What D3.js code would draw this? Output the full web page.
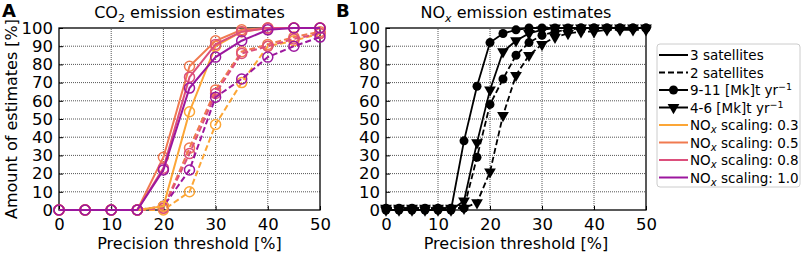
<!DOCTYPE html>
<html>
<head>
<meta charset="utf-8">
<script src="https://cdn.jsdelivr.net/npm/d3@7"></script>
<style>
  body { margin: 0; background: #fff; }
  svg { font-family: "DejaVu Sans", sans-serif; }
</style>
</head>
<body>
<div id="chart"></div>
<script>
// ---- data ----
const co2X = [0, 5, 10, 15, 20, 25, 30, 35, 40, 45, 50];
const co2_3sat_03 = [0, 0, 0, 0, 2, 54, 90, 98, 100, 100, 100];
const co2_3sat_05 = [0, 0, 0, 0, 29, 79, 93, 99, 100, 100, 100];
const co2_3sat_08 = [0, 0, 0, 0, 23, 73, 91, 98, 100, 100, 100];
const co2_3sat_10 = [0, 0, 0, 0, 22, 67, 84, 93, 99, 100, 100];
const co2_2sat_03 = [0, 0, 0, 0, 0, 10, 47, 70, 90, 93, 97];
const co2_2sat_05 = [0, 0, 0, 0, 1, 34, 66, 87, 91, 95, 98];
const co2_2sat_08 = [0, 0, 0, 0, 1, 31, 64, 86, 90, 94, 97];
const co2_2sat_10 = [0, 0, 0, 0, 2, 22, 62, 72, 84, 90, 95];

const noxX = [0, 2.5, 5, 7.5, 10, 12.5, 15, 17.5, 20, 22.5, 25, 27.5, 30, 32.5, 35, 37.5, 40, 42.5, 45, 47.5, 50];
const nox_3sat_high = [0, 0, 0, 0, 0, 0, 38, 68, 92, 97, 99, 100, 100, 100, 100, 100, 100, 100, 100, 100, 100];
const nox_3sat_low  = [0, 0, 0, 0, 0, 0, 5, 37, 66, 87, 93, 97, 99, 100, 100, 100, 100, 100, 100, 100, 100];
const nox_2sat_high = [1, 1, 1, 1, 1, 1, 1, 29, 58, 72, 85, 92, 96, 98, 99, 100, 100, 100, 100, 100, 100];
const nox_2sat_low  = [1, 1, 1, 1, 1, 1, 1, 4, 21, 52, 74, 85, 91, 95, 97, 98, 98, 99, 99, 99, 99];

const scalingLabels = ["0.3", "0.5", "0.8", "1.0"];
const scalingColors = ["#fca636", "#f07a50", "#dc4f7c", "#9c179e"];
const xTicks = [0, 10, 20, 30, 40, 50];
const yTicks = [0, 10, 20, 30, 40, 50, 60, 70, 80, 90, 100];

// ---- layout ----
const width = 803, height = 255;
const yScale = d3.scaleLinear().domain([0, 100]).range([210, 28]);
const xA = d3.scaleLinear().domain([0, 50]).range([59, 320]);
const xB = d3.scaleLinear().domain([0, 50]).range([386, 646]);

const svg = d3.select("#chart").append("svg")
  .attr("width", width)
  .attr("height", height);

function drawFrame(x, letter, letterX, titleMain, titleSub, titleRest, showYLabel) {
  const g = svg.append("g");
  const [x0, x1] = x.range();

  // dotted grid
  g.selectAll(".gx").data(xTicks.slice(1, -1)).enter().append("line")
    .attr("x1", d => x(d)).attr("x2", d => x(d))
    .attr("y1", yScale(0)).attr("y2", yScale(100))
    .attr("stroke", "#555").attr("stroke-width", 1).attr("stroke-dasharray", "1,1");
  g.selectAll(".gy").data(yTicks.slice(1, -1)).enter().append("line")
    .attr("x1", x0).attr("x2", x1)
    .attr("y1", d => yScale(d)).attr("y2", d => yScale(d))
    .attr("stroke", "#555").attr("stroke-width", 1).attr("stroke-dasharray", "1,1");

  // axes, inward ticks
  const xAxis = g.append("g")
    .attr("transform", `translate(0,${yScale(0)})`)
    .call(d3.axisBottom(x).tickValues(xTicks).tickSizeInner(-4).tickSizeOuter(0).tickPadding(8));
  const yAxis = g.append("g")
    .attr("transform", `translate(${x0},0)`)
    .call(d3.axisLeft(yScale).tickValues(yTicks).tickSizeInner(-4).tickSizeOuter(0).tickPadding(6));
  [xAxis, yAxis].forEach(a => {
    a.select(".domain").remove();
    a.selectAll("text").attr("font-size", 16.5).attr("fill", "#000")
      .attr("font-family", "DejaVu Sans");
    a.selectAll("line").attr("stroke", "#000");
  });

  // frame
  g.append("rect")
    .attr("x", x0).attr("y", yScale(100))
    .attr("width", x1 - x0).attr("height", yScale(0) - yScale(100))
    .attr("fill", "none").attr("stroke", "#000").attr("stroke-width", 1.3);

  // title
  const t = g.append("text")
    .attr("x", (x0 + x1) / 2).attr("y", 18)
    .attr("text-anchor", "middle").attr("font-size", 16);
  t.append("tspan").text(titleMain);
  t.append("tspan").attr("dy", 4).attr("font-size", 11).attr("font-style", titleSub === "x" ? "italic" : "normal").text(titleSub);
  t.append("tspan").attr("dy", -4).text(titleRest);

  g.append("text")
    .attr("x", letterX).attr("y", 17)
    .attr("font-size", 18).attr("font-weight", "bold").text(letter);

  g.append("text")
    .attr("x", (x0 + x1) / 2).attr("y", 249)
    .attr("text-anchor", "middle").attr("font-size", 16)
    .text("Precision threshold [%]");

  if (showYLabel) {
    g.append("text")
      .attr("transform", `translate(17,${(yScale(0) + yScale(100)) / 2}) rotate(-90)`)
      .attr("text-anchor", "middle").attr("font-size", 16)
      .text("Amount of estimates [%]");
  }
}

drawFrame(xA, "A", 2, "CO", "2", " emission estimates", true);
drawFrame(xB, "B", 336, "NO", "x", " emission estimates", false);

// ---- panel A lines ----
const co2Dashed = [co2_2sat_03, co2_2sat_05, co2_2sat_08, co2_2sat_10];
const co2Solid = [co2_3sat_03, co2_3sat_05, co2_3sat_08, co2_3sat_10];

function drawSeries(x, xs, ys, color, dash, width, marker) {
  const pts = xs.map((d, i) => [d, ys[i]]);
  const line = d3.line().x(d => x(d[0])).y(d => yScale(d[1]));
  svg.append("path")
    .datum(pts)
    .attr("d", line)
    .attr("fill", "none")
    .attr("stroke", color)
    .attr("stroke-width", width)
    .attr("stroke-dasharray", dash ? "6,3" : null);

  if (marker === "open") {
    svg.append("g").selectAll("circle").data(pts).enter().append("circle")
      .attr("cx", d => x(d[0])).attr("cy", d => yScale(d[1]))
      .attr("r", 5).attr("fill", "none")
      .attr("stroke", color).attr("stroke-width", 1.5);
  } else if (marker === "circle") {
    svg.append("g").selectAll("circle").data(pts).enter().append("circle")
      .attr("cx", d => x(d[0])).attr("cy", d => yScale(d[1]))
      .attr("r", 4.5).attr("fill", color);
  } else if (marker === "tri") {
    const sym = d3.symbol().type(d3.symbolTriangle).size(60);
    svg.append("g").selectAll("path").data(pts).enter().append("path")
      .attr("d", sym)
      .attr("transform", d => `translate(${x(d[0])},${yScale(d[1])}) rotate(180)`)
      .attr("fill", color);
  }
}

co2Dashed.forEach((s, i) => drawSeries(xA, co2X, s, scalingColors[i], true, 2, "open"));
co2Solid.forEach((s, i) => drawSeries(xA, co2X, s, scalingColors[i], false, 2, "open"));

// ---- panel B lines ----
drawSeries(xB, noxX, nox_2sat_low, "#000", true, 1.8, "tri");
drawSeries(xB, noxX, nox_2sat_high, "#000", true, 1.8, "circle");
drawSeries(xB, noxX, nox_3sat_low, "#000", false, 1.8, "tri");
drawSeries(xB, noxX, nox_3sat_high, "#000", false, 1.8, "circle");

// ---- legend ----
const legend = svg.append("g");
legend.append("rect")
  .attr("x", 657).attr("y", 44).attr("width", 143).attr("height", 143)
  .attr("rx", 3).attr("fill", "#fff").attr("stroke", "#ccc");

const legendItems = [
  { label: ["3 satellites"], color: "#000", dash: false, marker: null },
  { label: ["2 satellites"], color: "#000", dash: true, marker: null },
  { label: ["9-11 [Mk]t yr", "−1"], color: "#000", dash: false, marker: "circle" },
  { label: ["4-6 [Mk]t yr", "−1"], color: "#000", dash: false, marker: "tri" }
].concat(scalingLabels.map((s, i) => ({
  label: ["NO", "x", " scaling: " + s], color: scalingColors[i], dash: false, marker: null
})));

const ly = d3.scaleLinear().domain([0, legendItems.length - 1]).range([55, 177.5]);

legendItems.forEach((item, i) => {
  const y = ly(i);
  legend.append("line")
    .attr("x1", 659).attr("x2", 688).attr("y1", y).attr("y2", y)
    .attr("stroke", item.color).attr("stroke-width", 2)
    .attr("stroke-dasharray", item.dash ? "6,3" : null);
  if (item.marker === "circle") {
    legend.append("circle").attr("cx", 673.5).attr("cy", y).attr("r", 4.5).attr("fill", "#000");
  } else if (item.marker === "tri") {
    legend.append("path")
      .attr("d", d3.symbol().type(d3.symbolTriangle).size(60))
      .attr("transform", `translate(673.5,${y}) rotate(180)`).attr("fill", "#000");
  }
  const t = legend.append("text")
    .attr("x", 690).attr("y", y + 5).attr("font-size", 13.5);
  if (item.label.length === 3) {
    t.append("tspan").text(item.label[0]);
    t.append("tspan").attr("dy", 3).attr("font-size", 10).attr("font-style", "italic").text(item.label[1]);
    t.append("tspan").attr("dy", -3).text(item.label[2]);
  } else if (item.label.length === 2) {
    t.append("tspan").text(item.label[0]);
    t.append("tspan").attr("dy", -5).attr("font-size", 9.5).text(item.label[1]);
  } else {
    t.text(item.label[0]);
  }
});
</script>
</body>
</html>
